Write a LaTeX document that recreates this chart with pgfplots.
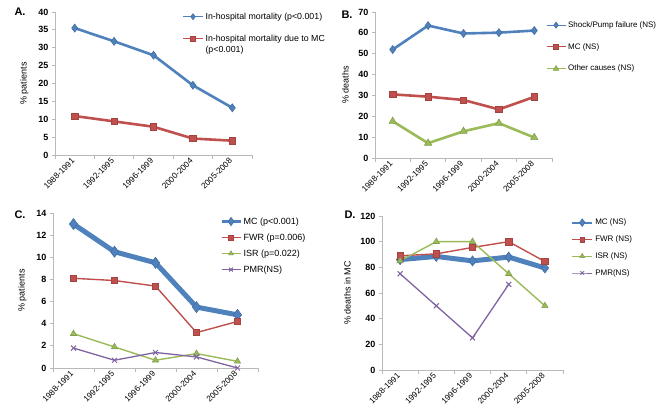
\documentclass[border=0pt]{standalone}
\usepackage{fontspec}
\setmainfont{Liberation Sans}
\usepackage{pgfplots}
\pgfplotsset{compat=1.18}
\definecolor{cblue}{HTML}{4F81BD}
\definecolor{cred}{HTML}{C0504D}
\definecolor{cgreen}{HTML}{9BBB59}
\definecolor{cpurple}{HTML}{8064A2}
\pgfplotsset{
  leglen/.initial=19pt,
  panel/.style={
    scale only axis, axis x line*=bottom, axis y line*=left,
    axis line style={draw=gray!55, line width=0.8pt},
    tick align=outside, major tick length=3pt, minor tick length=4pt,
    every tick/.style={gray!55, line width=0.8pt},
    xmin=-0.5, xmax=4.5, xtick={0,...,4},
    xticklabels={1988-1991,1992-1995,1996-1999,2000-2004,2005-2008},
    major x tick style={draw=none},
    minor xtick={-0.5,0.5,1.5,2.5,3.5,4.5},
    xticklabel style={rotate=45, anchor=east, font=\fontsize{8.3}{9}\selectfont, inner sep=2pt},
    yticklabel style={font=\bfseries\fontsize{9}{10}\selectfont},
    /pgf/number format/assume math mode=true,
    ylabel style={font=\fontsize{9}{10}\selectfont, yshift=3pt},
    legend style={draw=none, fill=none, anchor=north west,
      cells={anchor=west, align=left}, inner sep=0pt},
    legend image code/.code={\draw[mark repeat=2, mark phase=2, line width=0.65\pgflinewidth, every mark/.append style={scale=0.75}] plot coordinates {(0pt,0pt) (0.5*\pgfkeysvalueof{/pgfplots/leglen},0pt) (\pgfkeysvalueof{/pgfplots/leglen},0pt)};},
    clip=false,
  },
  sblue/.style={cblue, line width=2.6pt, mark=diamond*, mark size=4pt, mark options={solid, fill=cblue, draw=cblue!85!black, line width=0.6pt}},
  sred/.style={cred, line width=2.6pt, mark=square*, mark size=3.2pt, mark options={solid, fill=cred, draw=cred!85!black, line width=0.6pt}},
  sgreen/.style={cgreen, line width=2.6pt, mark=triangle*, mark size=4.2pt, mark options={solid, fill=cgreen, draw=cgreen!85!black, line width=0.6pt}},
  spurple/.style={cpurple, line width=1.3pt, mark=x, mark size=3.5pt, mark options={solid, draw=cpurple, line width=1pt}},
}
\begin{document}
\begin{tikzpicture}
\useasboundingbox[fill=white] (0pt,0pt) rectangle (661pt,411pt);

% Panel A
\begin{axis}[panel, at={(55pt,256pt)}, anchor=south west, width=197pt, height=143pt,
  ymin=0, ymax=40, ytick={0,5,...,40}, ylabel={\% patients}, leglen=20pt,
  legend style={at={(0.646,1.01)}, row sep=10pt, font=\fontsize{8.8}{11}\selectfont}]
\addplot[sblue] coordinates {(0,35.5) (1,31.8) (2,27.9) (3,19.5) (4,13.2)};
\addlegendentry{In-hospital mortality (p<0.001)}
\addplot[sred] coordinates {(0,10.9) (1,9.4) (2,7.9) (3,4.6) (4,4.0)};
\addlegendentry[yshift=-5.5pt]{In-hospital mortality due to MC\\(p<0.001)}
\end{axis}

% Panel B
\begin{axis}[panel, at={(375pt,253pt)}, anchor=south west, width=177pt, height=146pt,
  ymin=0, ymax=70, ytick={0,10,...,70}, ylabel={\% deaths},
  legend style={at={(0.965,0.95)}, row sep=10.5pt, font=\fontsize{8}{10}\selectfont}]
\addplot[sblue] coordinates {(0,52.0) (1,63.5) (2,59.7) (3,60.1) (4,61.1)};
\addlegendentry{Shock/Pump failure (NS)}
\addplot[sred] coordinates {(0,30.5) (1,29.4) (2,27.8) (3,23.3) (4,29.3)};
\addlegendentry{MC (NS)}
\addplot[sgreen] coordinates {(0,17.6) (1,7.1) (2,12.8) (3,16.7) (4,9.8)};
\addlegendentry{Other causes (NS)}
\end{axis}

% Panel C
\begin{axis}[panel, at={(53pt,43pt)}, anchor=south west, width=205pt, height=155pt,
  ymin=0, ymax=14, ytick={0,2,...,14}, ylabel={\% patients},
  legend style={at={(0.816,0.985)}, row sep=4pt, font=\fontsize{9}{11}\selectfont}]
\addplot[sblue, line width=5pt, mark size=5.5pt] coordinates {(0,13.0) (1,10.5) (2,9.5) (3,5.5) (4,4.8)};
\addlegendentry{MC (p<0.001)}
\addplot[sred, line width=1.4pt] coordinates {(0,8.1) (1,7.9) (2,7.4) (3,3.2) (4,4.2)};
\addlegendentry{FWR (p=0.006)}
\addplot[sgreen, line width=1.4pt, mark size=3.6pt] coordinates {(0,3.1) (1,1.9) (2,0.7) (3,1.3) (4,0.6)};
\addlegendentry{ISR (p=0.022)}
\addplot[spurple] coordinates {(0,1.8) (1,0.7) (2,1.4) (3,1.0) (4,0.0)};
\addlegendentry{PMR(NS)}
\end{axis}

% Panel D
\begin{axis}[panel, at={(382pt,41pt)}, anchor=south west, width=181pt, height=154pt,
  ymin=0, ymax=120, ytick={0,20,...,120}, ylabel={\% deaths in MC}, leglen=20pt,
  legend style={at={(1.044,0.995)}, row sep=5.5pt, font=\fontsize{8}{10}\selectfont}]
\addplot[sblue, line width=5pt, mark size=5pt] coordinates {(0,86) (1,88.5) (2,85) (3,88) (4,79.5)};
\addlegendentry{MC (NS)}
\addplot[sred, line width=1.4pt] coordinates {(0,89) (1,90.5) (2,95.5) (3,100) (4,84.5)};
\addlegendentry{FWR (NS)}
\addplot[sgreen, line width=1.4pt, mark size=3.6pt] coordinates {(0,85) (1,100) (2,100) (3,75) (4,50)};
\addlegendentry{ISR (NS)}
\addplot[spurple] coordinates {(0,75) (1,50) (2,25) (3,66.7)};
\addlegendentry{PMR(NS)}
\end{axis}

\node[font=\bfseries\fontsize{11}{12}\selectfont, anchor=west] at (11pt,399pt) {A.};
\node[font=\bfseries\fontsize{11}{12}\selectfont, anchor=west] at (338pt,396pt) {B.};
\node[font=\bfseries\fontsize{11}{12}\selectfont, anchor=west] at (11pt,196pt) {C.};
\node[font=\bfseries\fontsize{11}{12}\selectfont, anchor=west] at (341pt,196pt) {D.};
\end{tikzpicture}
\end{document}
